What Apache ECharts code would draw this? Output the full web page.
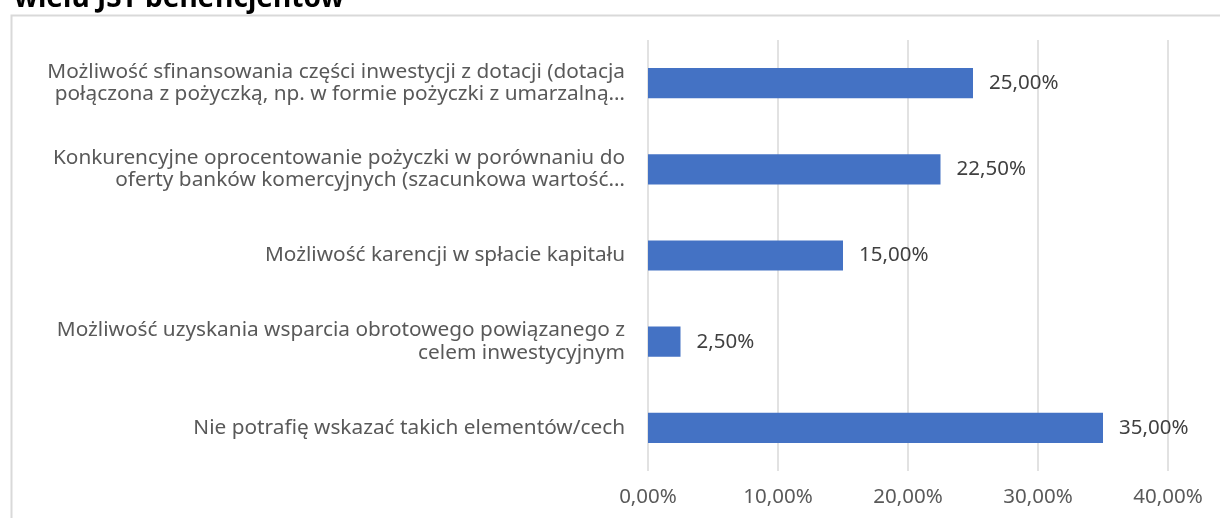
<!DOCTYPE html>
<html>
<head>
<meta charset="utf-8">
<script src="https://cdn.jsdelivr.net/npm/echarts@6/dist/echarts.min.js"></script>
<style>html,body{margin:0;padding:0;background:#fff}#c{width:1220px;height:518px}</style>
</head>
<body>
<div id="c"></div>
<script>
const titleText = 'wielu JST beneficjentów';
const categories = [
  'Możliwość sfinansowania części inwestycji z dotacji (dotacja\npołączona z pożyczką, np. w formie pożyczki z umarzalną…',
  'Konkurencyjne oprocentowanie pożyczki w porównaniu do\noferty banków komercyjnych (szacunkowa wartość…',
  'Możliwość karencji w spłacie kapitału',
  'Możliwość uzyskania wsparcia obrotowego powiązanego z\ncelem inwestycyjnym',
  'Nie potrafię wskazać takich elementów/cech'
];
const values = [25.0, 22.5, 15.0, 2.5, 35.0];
const axisMin = 0, axisMax = 40, axisStep = 10;

const FONT = 'Noto Sans';
const fmt = v => v.toFixed(2).replace('.', ',') + '%';

const chart = echarts.init(document.getElementById('c'), null, {renderer: 'canvas'});
chart.setOption({
  backgroundColor: '#fff',
  animation: false,
  title: {
    text: titleText, left: 9, top: -20,
    textStyle: {fontFamily: FONT, fontWeight: 'bold', fontSize: 28, color: '#000'}
  },
  graphic: [{
    type: 'rect', left: 9, top: 13,
    shape: {width: 1240, height: 540},
    style: {fill: 'none', stroke: '#d9d9d9', lineWidth: 2}
  }],
  grid: {left: 648, right: 52, top: 40, bottom: 47},
  xAxis: {
    type: 'value', min: axisMin, max: axisMax, interval: axisStep,
    axisLine: {show: false}, axisTick: {show: false},
    splitLine: {lineStyle: {color: '#d9d9d9', width: 1.5}},
    axisLabel: {formatter: v => fmt(v), color: '#595959', fontFamily: FONT, fontSize: 20.5, margin: 16}
  },
  yAxis: {
    type: 'category', data: categories, inverse: true,
    axisLine: {show: false}, axisTick: {show: false},
    axisLabel: {color: '#595959', fontFamily: FONT, fontSize: 20.8, lineHeight: 22.5, align: 'right', margin: 23}
  },
  series: [{
    type: 'bar', data: values, barCategoryGap: '65%',
    itemStyle: {color: '#4472C4'},
    label: {show: true, position: 'right', distance: 16, formatter: p => fmt(p.value),
      color: '#404040', fontFamily: FONT, fontSize: 20.5}
  }]
});
</script>
</body>
</html>
